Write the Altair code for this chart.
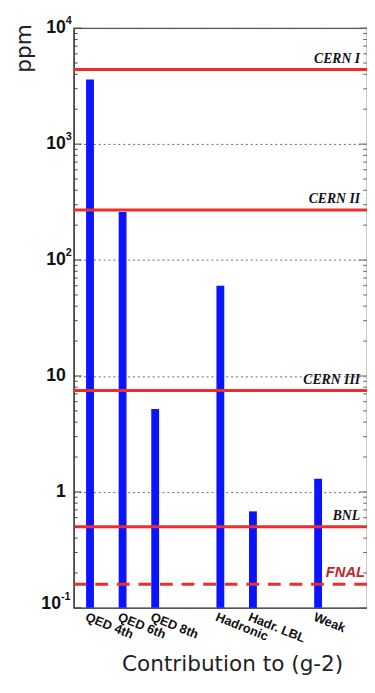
import altair as alt
import pandas as pd

# ---- data ----
categories = ["QED 4th", "QED 6th", "QED 8th", "Hadronic", "Hadr. LBL", "Weak"]
values_ppm = [3600, 260, 5.2, 60, 0.68, 1.3]
slots = ["QED 4th", "QED 6th", "QED 8th", "gap1", "Hadronic", "Hadr. LBL", "gap2", "Weak", "gap3"]

exp_names = ["CERN I", "CERN II", "CERN III", "BNL", "FNAL"]
exp_ppm = [4400, 270, 7.5, 0.50, 0.16]

tick_values = [0.1, 1, 10, 100, 1000, 10000]
tick_base = ["10", "1", "10", "10", "10", "10"]
tick_sup = ["-1", "", "", "2", "3", "4"]
minor_ticks = [m * 10.0 ** e for e in range(-1, 4) for m in range(2, 10)]

W, H = 299, 591
y_scale = alt.Scale(type="log", domain=[0.1, 10000])
x_scale = alt.Scale(domain=slots, paddingInner=0, paddingOuter=0)

bars_df = pd.DataFrame({"category": categories, "ppm": values_ppm})
exp_df = pd.DataFrame({"name": exp_names, "ppm": exp_ppm})
ticks_df = pd.DataFrame({"v": tick_values, "base": tick_base, "sup": tick_sup})
minor_df = pd.DataFrame({"v": minor_ticks})

bars = alt.Chart(bars_df).mark_bar(size=8, color="#0a14ff").encode(
    x=alt.X("category:N", scale=x_scale,
            axis=alt.Axis(labels=False, ticks=False, title=None, grid=False,
                          domainColor="#555", domainWidth=1.2)),
    y=alt.Y("ppm:Q", scale=y_scale,
            axis=alt.Axis(values=tick_values, labels=False, ticks=False, title=None,
                          grid=True, gridDash=[2, 3], gridColor="#666",
                          domainColor="#444", domainWidth=1.5)),
    y2=alt.datum(0.1),
)

solid = alt.Chart(exp_df).transform_filter("datum.name != 'FNAL'").mark_rule(
    color="#ee2d2d", strokeWidth=3).encode(y=alt.Y("ppm:Q", scale=y_scale))
dashed = alt.Chart(exp_df).transform_filter("datum.name == 'FNAL'").mark_rule(
    color="#ee2d2d", strokeWidth=3, strokeDash=[13, 9]).encode(y=alt.Y("ppm:Q", scale=y_scale))

exp_labels = alt.Chart(exp_df).transform_filter("datum.name != 'FNAL'").mark_text(
    font="Liberation Serif", fontStyle="italic", fontWeight="bold", fontSize=14,
    align="right", baseline="alphabetic", dy=-7, color="#111").encode(
    y=alt.Y("ppm:Q", scale=y_scale), x=alt.value(292), text="name:N")
fnal_label = alt.Chart(exp_df).transform_filter("datum.name == 'FNAL'").mark_text(
    font="Liberation Sans", fontStyle="italic", fontWeight="bold", fontSize=15,
    align="right", baseline="alphabetic", dy=-7, color="#c0262a").encode(
    y=alt.Y("ppm:Q", scale=y_scale), x=alt.value(297), text="name:N")

minor_l = alt.Chart(minor_df).mark_rule(color="#444", strokeWidth=1).encode(
    y=alt.Y("v:Q", scale=y_scale), x=alt.value(0), x2=alt.value(4))
minor_r = alt.Chart(minor_df).mark_rule(color="#666", strokeWidth=1).encode(
    y=alt.Y("v:Q", scale=y_scale), x=alt.value(W - 4), x2=alt.value(W))
major_l = alt.Chart(ticks_df).mark_rule(color="#444", strokeWidth=1).encode(
    y=alt.Y("v:Q", scale=y_scale), x=alt.value(0), x2=alt.value(8))
major_r = alt.Chart(ticks_df).mark_rule(color="#666", strokeWidth=1).encode(
    y=alt.Y("v:Q", scale=y_scale), x=alt.value(W - 8), x2=alt.value(W))

lab_font = dict(font="Liberation Sans", fontWeight="bold", color="#111")
base_a = alt.Chart(ticks_df).transform_filter("datum.sup != '-1'").mark_text(
    align="right", baseline="middle", fontSize=18, **lab_font).encode(
    y=alt.Y("v:Q", scale=y_scale), x=alt.value(-8), text="base:N")
sup_a = alt.Chart(ticks_df).transform_filter("datum.sup != '-1' && datum.sup != ''").mark_text(
    align="left", baseline="middle", fontSize=11, dy=-7, **lab_font).encode(
    y=alt.Y("v:Q", scale=y_scale), x=alt.value(-8), text="sup:N")
base_b = alt.Chart(ticks_df).transform_filter("datum.sup == '-1'").mark_text(
    align="right", baseline="middle", fontSize=18, dy=-4, **lab_font).encode(
    y=alt.Y("v:Q", scale=y_scale), x=alt.value(-13), text="base:N")
sup_b = alt.Chart(ticks_df).transform_filter("datum.sup == '-1'").mark_text(
    align="left", baseline="middle", fontSize=11, dy=-11, **lab_font).encode(
    y=alt.Y("v:Q", scale=y_scale), x=alt.value(-13), text="sup:N")

x_labels = alt.Chart(bars_df).mark_text(
    align="left", baseline="top", angle=22, fontSize=13, dx=-2,
    font="Liberation Sans", fontWeight="bold", color="#111").encode(
    x=alt.X("category:N", scale=x_scale), y=alt.value(H + 4), text="category:N")

y_title = alt.Chart(pd.DataFrame({"t": ["ppm"]})).mark_text(
    angle=270, align="right", baseline="middle", fontSize=22,
    font="DejaVu Sans", color="#222").encode(
    x=alt.value(-51), y=alt.value(-4), text="t:N")
x_title = alt.Chart(pd.DataFrame({"t": ["Contribution to (g-2)"]})).mark_text(
    align="center", baseline="middle", fontSize=22,
    font="DejaVu Sans", color="#222").encode(
    x=alt.value(162), y=alt.value(648), text="t:N")

chart = alt.layer(
    bars, solid, dashed, exp_labels, fnal_label,
    minor_l, minor_r, major_l, major_r,
    base_a, sup_a, base_b, sup_b, x_labels, y_title, x_title,
).properties(
    width=W, height=H,
    padding={"left": 67, "top": 14, "right": 0, "bottom": 67},
    autosize="none",
).configure_view(stroke="#555", strokeWidth=1.2)

chart.save("out.html", embed_options={"renderer": "svg", "actions": False})
